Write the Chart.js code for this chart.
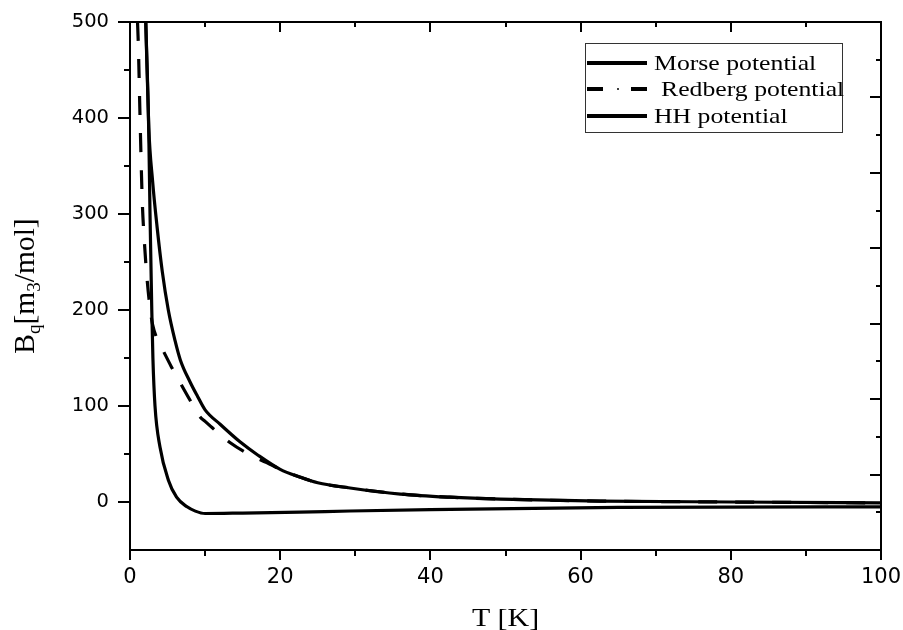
<!DOCTYPE html>
<html>
<head>
<meta charset="utf-8">
<script src="https://cdn.jsdelivr.net/npm/chart.js@4.4.1/dist/chart.umd.min.js"></script>
<style>
html,body{margin:0;padding:0;background:#fff;}
#wrap{width:903px;height:630px;position:relative;}
</style>
</head>
<body>
<div id="wrap"><canvas id="c" width="903" height="630"></canvas></div>
<script>
// ---- data ----
const seriesNames = ['Morse potential', 'Redberg potential', 'HH potential'];

const tMorse = [2.1, 2.5, 3.0, 3.6, 4.3, 5.1, 6.0, 6.7, 8.0, 9.0, 10, 12, 14.6, 17, 20, 22.6, 25, 29.3, 36, 42.6, 49.3, 62.6, 80, 100];
const bMorse = [500, 390, 335, 287, 240, 200, 168, 148, 125, 110, 96, 81, 63, 49, 34, 26, 20, 14.6, 8.3, 5, 3, 1, 0, -1];

const tRedberg = [1.0, 1.1, 1.33, 1.64, 1.9, 2.2, 2.7, 3.0, 3.5, 4.2, 5.5, 6.7, 8.0, 9.3, 10, 11, 13.3, 16, 18.2, 20, 22.6, 25, 29.3, 36, 42.6, 49.3, 62.6, 80, 100];
const bRedberg = [500, 479, 403, 312, 273, 239, 200, 185, 172, 161, 141, 124, 106, 89, 84, 77, 62, 49, 41, 34, 26, 20, 14.6, 8.3, 5, 3, 1, 0, -1];

const tHH = [2.1, 2.5, 2.66, 2.9, 3.05, 3.33, 4.0, 5.1, 6.2, 7.6, 8.7, 10, 15, 22.6, 29.3, 40, 65, 100];
const bHH = [500, 385, 302, 200, 150, 100, 57, 23, 5, -5, -9.5, -12, -11.5, -10.5, -9.4, -8, -5.5, -5];

const xTicks = [0, 20, 40, 60, 80, 100];
const xMinorTicks = [10, 30, 50, 70, 90];
const yTicks = [0, 100, 200, 300, 400, 500];
const yMinorTicks = [50, 150, 250, 350, 450];
const rightMajorTicks = [0, 2, 4, 6, 8, 10, 12, 14];
const rightMinorTicks = [1, 3, 5, 7, 9, 11, 13];

const xTitle = 'T [K]';
const yTitleParts = [['B', false], ['q', true], ['[m', false], ['3', true], ['/mol]', false]];

// ---- helpers ----
function mkSet(label, xs, ys, dash) {
  return {
    label: label,
    data: xs.map((x, i) => ({x: x, y: ys[i]})),
    borderColor: '#000',
    backgroundColor: '#000',
    borderWidth: 3.2,
    borderDash: dash,
    pointRadius: 0,
    pointHoverRadius: 0,
    fill: false,
    cubicInterpolationMode: 'monotone'
  };
}

function line(ctx, x1, y1, x2, y2) {
  ctx.beginPath(); ctx.moveTo(x1, y1); ctx.lineTo(x2, y2); ctx.stroke();
}

function wideText(ctx, txt, x, y, sx) {
  ctx.save();
  ctx.translate(x, y);
  ctx.scale(sx, 1);
  ctx.fillText(txt, 0, 0);
  ctx.restore();
}

const hiddenAxis = {
  grid: {display: false, drawTicks: false},
  border: {display: false},
  ticks: {display: false}
};

function noOverflow(s) {
  s.paddingTop = 0; s.paddingBottom = 0; s.paddingLeft = 0; s.paddingRight = 0;
}

const framePlugin = {
  id: 'frame',
  afterDatasetsDraw(chart) {
    const ctx = chart.ctx;
    const a = chart.chartArea;
    const xs = chart.scales.x, ys = chart.scales.y, rs = chart.scales.y2;
    ctx.save();
    ctx.strokeStyle = '#000';
    ctx.lineWidth = 2;
    ctx.strokeRect(a.left, a.top, a.right - a.left, a.bottom - a.top);
    xTicks.forEach(v => { const p = Math.round(xs.getPixelForValue(v)); line(ctx, p, a.bottom, p, a.bottom + 10); line(ctx, p, a.top, p, a.top + 10); });
    xMinorTicks.forEach(v => { const p = Math.round(xs.getPixelForValue(v)); line(ctx, p, a.bottom, p, a.bottom + 6); line(ctx, p, a.top, p, a.top + 5); });
    yTicks.forEach(v => { const p = Math.round(ys.getPixelForValue(v)); line(ctx, a.left - 12, p, a.left, p); });
    yMinorTicks.forEach(v => { const p = Math.round(ys.getPixelForValue(v)); line(ctx, a.left - 6, p, a.left, p); });
    rightMajorTicks.forEach(v => { const p = Math.round(rs.getPixelForValue(v)); line(ctx, a.right - 11, p, a.right, p); });
    rightMinorTicks.forEach(v => { const p = Math.round(rs.getPixelForValue(v)); line(ctx, a.right - 5, p, a.right, p); });
    ctx.restore();
  },
  afterDraw(chart) {
    const ctx = chart.ctx;
    const a = chart.chartArea;
    ctx.save();
    ctx.fillStyle = '#000';
    ctx.font = '26px "Liberation Serif"';
    ctx.textBaseline = 'alphabetic';
    ctx.textAlign = 'left';
    const xtw = ctx.measureText(xTitle).width * 1.15;
    wideText(ctx, xTitle, (a.left + a.right) / 2 - xtw / 2, 626, 1.15);
    const mainFont = '29.5px "Liberation Serif"', subFont = '19px "Liberation Serif"';
    let total = 0;
    yTitleParts.forEach(([t, sub]) => { ctx.font = sub ? subFont : mainFont; total += ctx.measureText(t).width; });
    ctx.translate(34, (a.top + a.bottom) / 2);
    ctx.rotate(-Math.PI / 2);
    let x = -total / 2;
    yTitleParts.forEach(([t, sub]) => {
      ctx.font = sub ? subFont : mainFont;
      ctx.fillText(t, x, sub ? 6 : 0);
      x += ctx.measureText(t).width;
    });
    ctx.restore();

    ctx.save();
    ctx.strokeStyle = '#333';
    ctx.lineWidth = 1;
    ctx.strokeRect(585.5, 43.5, 257, 89);
    const rowsY = [63, 89, 116];
    const textX = [654, 661, 654];
    ctx.font = '22px "Liberation Serif"';
    ctx.textBaseline = 'middle';
    ctx.textAlign = 'left';
    ctx.fillStyle = '#000';
    chart.data.datasets.forEach((d, i) => {
      const y = rowsY[i];
      ctx.strokeStyle = d.borderColor;
      ctx.lineWidth = 4;
      if (d.borderDash && d.borderDash.length) {
        line(ctx, 587, y, 603, y);
        ctx.lineWidth = 1.5;
        line(ctx, 617, y, 619, y);
        ctx.lineWidth = 4;
        line(ctx, 631, y, 647, y);
      } else {
        line(ctx, 587, y, 647, y);
      }
      wideText(ctx, d.label, textX[i], y + 1, 1.17);
    });
    ctx.restore();
  }
};

new Chart(document.getElementById('c'), {
  type: 'line',
  data: {
    datasets: [
      mkSet(seriesNames[0], tMorse, bMorse, []),
      mkSet(seriesNames[1], tRedberg, bRedberg, [19, 18]),
      mkSet(seriesNames[2], tHH, bHH, [])
    ]
  },
  options: {
    responsive: false,
    animation: false,
    devicePixelRatio: 1,
    layout: {autoPadding: false, padding: 0},
    plugins: {legend: {display: false}, tooltip: {enabled: false}},
    scales: {
      x: {
        type: 'linear', position: 'bottom', min: 0, max: 100,
        afterBuildTicks: s => { s.ticks = xTicks.map(v => ({value: v})); },
        afterFit: s => { s.height = 80; noOverflow(s); },
        grid: {display: false, drawTicks: false},
        border: {display: false},
        ticks: {color: '#000', font: {family: '"DejaVu Sans"', size: 21}, padding: 15, maxRotation: 0, autoSkip: false}
      },
      x2: Object.assign({type: 'linear', position: 'top', min: 0, max: 100,
        afterFit: s => { s.height = 22; noOverflow(s); }}, hiddenAxis),
      y: {
        type: 'linear', position: 'left', min: -50, max: 500,
        afterBuildTicks: s => { s.ticks = yTicks.map(v => ({value: v})); },
        afterFit: s => { s.width = 130; noOverflow(s); },
        grid: {display: false, drawTicks: false},
        border: {display: false},
        ticks: {color: '#000', font: {family: '"DejaVu Sans"', size: 19.5}, padding: 21}
      },
      y2: Object.assign({type: 'linear', position: 'right', min: 0, max: 14,
        afterFit: s => { s.width = 22; noOverflow(s); }}, hiddenAxis)
    }
  },
  plugins: [framePlugin]
});
</script>
</body>
</html>
